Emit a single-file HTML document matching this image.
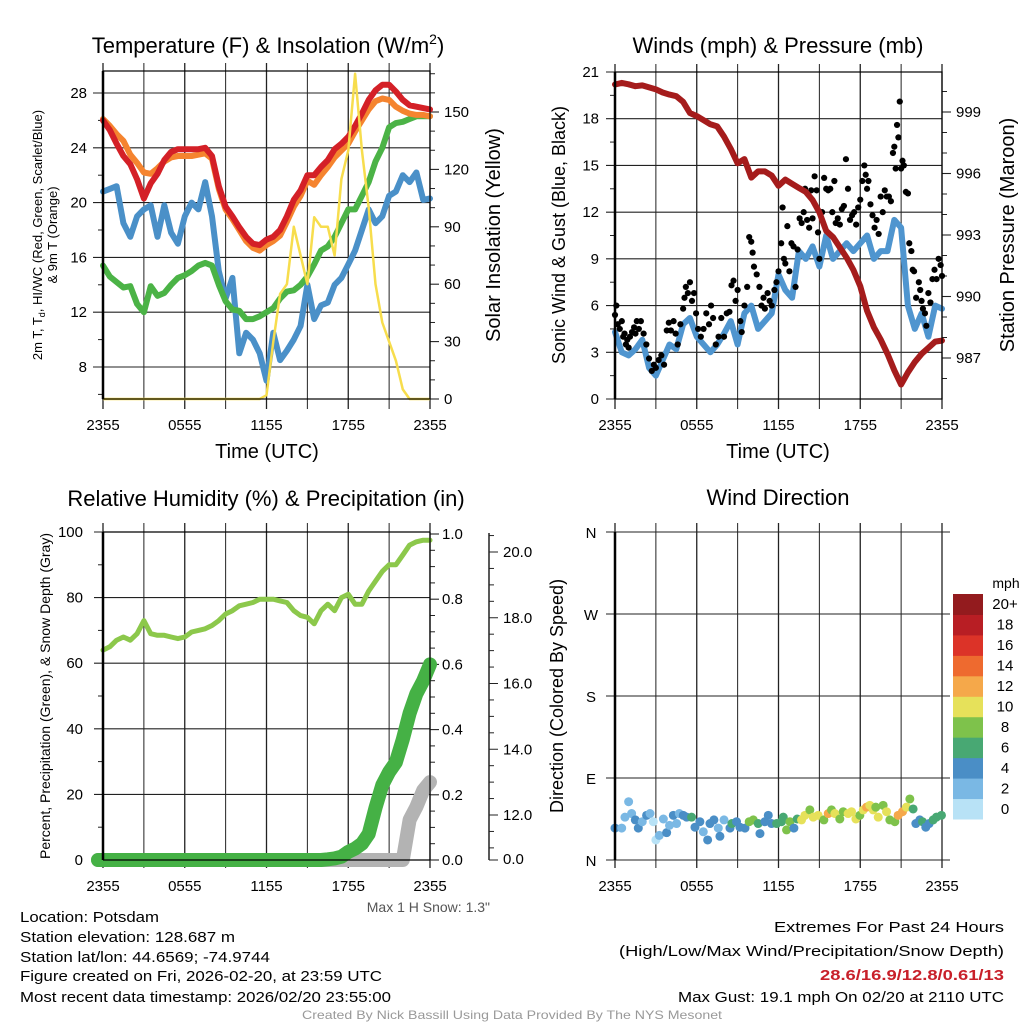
<!DOCTYPE html>
<html><head><meta charset="utf-8"><style>
html,body{margin:0;padding:0;background:#fff;}
svg{display:block;font-family:"Liberation Sans",Arial,sans-serif;}
</style></head><body>
<svg id="chart" width="1024" height="1024" viewBox="0 0 1024 1024" xmlns="http://www.w3.org/2000/svg">
<rect width="1024" height="1024" fill="#fff"/>
<text x="268" y="53" font-size="22" text-anchor="middle">Temperature (F) &amp; Insolation (W/m<tspan font-size="14" dy="-9">2</tspan><tspan dy="9">)</tspan></text>
<text x="778" y="53" font-size="22" text-anchor="middle">Winds (mph) &amp; Pressure (mb)</text>
<text x="266" y="506" font-size="22" text-anchor="middle">Relative Humidity (%) &amp; Precipitation (in)</text>
<text x="778" y="505" font-size="22" text-anchor="middle">Wind Direction</text>
<text transform="translate(42,235) rotate(-90)" font-size="13" text-anchor="middle">2m T, T<tspan font-size="9" dy="3">d</tspan><tspan dy="-3">, HI/WC (Red, Green, Scarlet/Blue)</tspan></text>
<text transform="translate(57,235) rotate(-90)" font-size="13" text-anchor="middle">&amp; 9m T (Orange)</text>
<text transform="translate(500,235) rotate(-90)" font-size="20" text-anchor="middle">Solar Insolation (Yellow)</text>
<text x="267" y="458" font-size="20" text-anchor="middle">Time (UTC)</text>
<text transform="translate(565,235) rotate(-90)" font-size="18" text-anchor="middle">Sonic Wind &amp; Gust (Blue, Black)</text>
<text transform="translate(1014,235) rotate(-90)" font-size="20" text-anchor="middle">Station Pressure (Maroon)</text>
<text x="778" y="458" font-size="20" text-anchor="middle">Time (UTC)</text>
<text transform="translate(50,696) rotate(-90)" font-size="14" text-anchor="middle">Percent, Precipitation (Green), &amp; Snow Depth (Gray)</text>
<text transform="translate(563,696) rotate(-90)" font-size="18" text-anchor="middle">Direction (Colored By Speed)</text>
<text x="490" y="912" font-size="14" fill="#555" text-anchor="end">Max 1 H Snow: 1.3"</text>
<g font-size="15">
<text x="20" y="922" textLength="139" lengthAdjust="spacingAndGlyphs">Location: Potsdam</text>
<text x="20" y="942" textLength="215" lengthAdjust="spacingAndGlyphs">Station elevation: 128.687 m</text>
<text x="20" y="962" textLength="250" lengthAdjust="spacingAndGlyphs">Station lat/lon: 44.6569; -74.9744</text>
<text x="20" y="981" textLength="362" lengthAdjust="spacingAndGlyphs">Figure created on Fri, 2026-02-20, at 23:59 UTC</text>
<text x="20" y="1002" textLength="371" lengthAdjust="spacingAndGlyphs">Most recent data timestamp: 2026/02/20 23:55:00</text>
</g>
<g font-size="15" text-anchor="end">
<text x="1004" y="932" textLength="230" lengthAdjust="spacingAndGlyphs">Extremes For Past 24 Hours</text>
<text x="1004" y="956" textLength="385" lengthAdjust="spacingAndGlyphs">(High/Low/Max Wind/Precipitation/Snow Depth)</text>
<text x="1004" y="980" fill="#c8202a" font-weight="bold" textLength="184" lengthAdjust="spacingAndGlyphs">28.6/16.9/12.8/0.61/13</text>
<text x="1004" y="1002" textLength="326" lengthAdjust="spacingAndGlyphs">Max Gust: 19.1 mph On 02/20 at 2110 UTC</text>
</g>
<text x="512" y="1019" font-size="12" fill="#999" text-anchor="middle" textLength="420" lengthAdjust="spacingAndGlyphs">Created By Nick Bassill Using Data Provided By The NYS Mesonet</text>
<g id="plots"></g>
</svg>
<script>
const hours = [0,0.5,1,1.5,2,2.5,3,3.5,4,4.5,5,5.5,6,6.5,7,7.5,8,8.5,9,9.5,10,10.5,11,11.5,12,12.5,13,13.5,14,14.5,15,15.5,16,16.5,17,17.5,18,18.5,19,19.5,20,20.5,21,21.5,22,22.5,23,23.5,24];
const timeTickLabels = ["2355","0555","1155","1755","2355"];
const tempRed = [26.0,25.3,24.3,23.4,22.8,21.7,20.3,21.4,22.1,23.1,23.7,23.9,23.9,23.9,23.9,24.0,23.4,21.2,19.7,19.0,18.2,17.5,17.0,16.9,17.3,17.5,18.0,19.0,20.2,20.9,22.0,22.0,22.6,23.1,23.9,24.3,24.8,25.6,26.5,27.5,28.2,28.6,28.6,28.1,27.5,27.1,27.0,26.9,26.8];
const temp9m = [26.1,25.6,25.0,24.5,23.5,22.9,22.2,22.1,22.5,23.0,23.3,23.4,23.4,23.4,23.5,23.6,23.2,21.0,19.5,18.8,18.0,17.2,16.7,16.5,16.9,17.2,17.6,18.6,19.7,20.5,21.6,21.3,22.0,22.6,23.3,23.8,24.3,25.2,26.0,26.8,27.4,27.6,27.5,27.0,26.7,26.5,26.4,26.4,26.3];
const dewGreen = [15.4,14.6,14.2,13.8,13.9,12.6,12.0,13.9,13.2,13.4,14.0,14.5,14.7,15.0,15.4,15.6,15.4,14.0,12.8,12.2,12.1,11.5,11.5,11.7,12.0,12.3,13.0,13.5,13.6,14.0,14.6,15.5,16.5,16.8,17.5,18.5,19.5,19.5,20.5,21.5,23.0,24.0,25.5,25.8,25.9,26.1,26.3,26.3,26.3];
const windChill = [20.8,21.0,21.2,18.5,17.5,19.0,19.5,19.8,17.5,19.8,17.8,17.0,19.0,20.0,19.5,21.5,19.0,15.0,13.0,14.5,9.0,10.5,10.0,9.0,7.0,10.5,8.5,9.2,10.0,11.0,14.0,11.5,12.5,12.7,14.0,14.5,15.5,16.5,18.0,19.5,18.5,19.0,20.5,20.8,22.0,21.5,22.2,20.2,20.3];
const solar = [0,0,0,0,0,0,0,0,0,0,0,0,0,0,0,0,0,0,0,0,0,0,0,0,2,30,55,60,90,75,60,95,90,90,75,115,130,170,130,100,60,40,30,20,5,0,0,0,0];
const tempTicks = [8,12,16,20,24,28];
const solarTicks = [0,30,60,90,120,150];

const windSpeed = [4.3,3.0,2.8,3.2,3.8,2.0,1.5,2.5,3.5,3.2,4.8,5.2,4.0,3.5,3.0,3.5,4.2,5.0,3.5,5.5,6.0,4.5,5.0,5.5,8.0,7.0,6.5,9.5,9.0,9.8,8.5,10.5,9.0,9.5,10.0,9.5,10.0,10.5,9.0,9.5,9.5,11.5,11.0,6.0,4.5,5.5,4.0,6.0,5.8];
const pressure = [1000.34,1000.42,1000.35,1000.26,1000.3,1000.2,1000.1,999.95,999.85,999.77,999.5,998.95,998.8,998.6,998.4,998.3,997.8,997.2,996.5,996.7,995.8,996.1,996.1,995.9,995.4,995.7,995.5,995.3,995.1,994.7,994.1,993.2,992.9,992.4,991.9,991.3,990.5,989.3,988.5,987.9,987.2,986.4,985.7,986.3,986.8,987.2,987.5,987.8,987.85];
const gustHours = [0,0.1,0.2,0.35,0.5,0.6,0.7,0.8,0.9,1.0,1.1,1.25,1.4,1.5,1.6,1.75,1.9,2.1,2.3,2.5,2.7,2.85,3.0,3.2,3.4,3.6,3.8,3.95,4.1,4.3,4.45,4.6,4.8,5.0,5.1,5.2,5.35,5.5,5.65,5.8,5.95,6.1,6.3,6.5,6.7,6.9,7.05,7.2,7.4,7.6,7.8,8.0,8.2,8.4,8.55,8.7,8.85,9.0,9.2,9.3,9.5,9.7,9.85,10.0,10.1,10.2,10.4,10.6,10.75,10.9,11.0,11.2,11.35,11.5,11.7,11.85,12.0,12.2,12.3,12.4,12.5,12.65,12.8,12.95,13.1,13.25,13.4,13.55,13.7,13.85,13.95,14.1,14.25,14.4,14.5,14.65,14.8,14.9,15.0,15.2,15.35,15.5,15.65,15.8,15.95,16.1,16.2,16.35,16.5,16.65,16.8,16.95,17.1,17.25,17.4,17.55,17.7,17.85,18.0,18.15,18.3,18.4,18.5,18.6,18.75,18.9,19.05,19.2,19.35,19.5,19.65,19.8,19.95,20.1,20.25,20.4,20.5,20.6,20.7,20.8,20.9,21.0,21.1,21.2,21.35,21.5,21.6,21.75,21.85,21.95,22.1,22.3,22.4,22.5,22.6,22.75,22.85,23.0,23.15,23.3,23.45,23.6,23.75,23.9,24.0];
const gustValues = [5.4,6.0,4.8,4.5,5.0,4.0,4.2,3.5,3.8,3.3,4.0,4.3,4.6,4.2,5.0,4.5,5.0,4.2,3.5,2.6,1.8,2.2,2.0,2.5,2.8,2.2,4.4,4.9,4.4,5.0,4.2,3.5,4.8,5.8,6.5,7.2,6.8,7.5,6.3,6.8,5.5,4.5,4.0,4.5,5.5,4.8,6.0,5.2,3.5,4.0,5.2,4.0,5.5,5.6,7.3,7.6,6.3,7.0,5.0,4.3,6.0,7.2,10.4,10.1,9.4,8.5,8.0,7.2,6.0,6.5,5.8,6.8,6.3,6.0,7.0,7.5,8.2,10.0,12.3,9.0,8.7,11.1,8.2,10.0,9.8,7.2,9.6,11.6,11.3,12.0,13.5,11.5,11.0,13.4,11.6,14.3,13.4,10.7,9.0,12.0,14.2,13.5,13.4,13.5,12.0,14.0,11.3,11.6,11.2,12.2,12.4,15.4,13.5,11.5,11.8,12.0,11.2,12.3,12.8,14.0,15.0,14.4,13.5,14.0,12.5,11.8,11.0,11.5,10.6,13.0,12.0,13.4,13.0,13.0,12.7,15.8,16.2,14.8,17.6,16.8,19.1,14.8,15.3,15.0,13.3,13.2,10.0,9.5,8.3,8.2,6.5,7.5,7.0,6.3,5.8,5.5,4.7,6.8,6.2,7.7,8.3,7.7,9.0,8.6,7.9];
const windTicks = [0,3,6,9,12,15,18,21];
const pressureTicks = [987,990,993,996,999];

const humidity = [64,65,67,68,67,69,73,69,68.5,68.5,68,67.5,68,69.5,70,70.5,71.5,73,75,76,77.5,78,78.5,79.5,79.5,79.5,79,78.5,76,74.5,74,72,76,78,76,80,81,78,78,82,85,88,90,90,93,96,97,97.5,97.5];
const precip = [0,0,0,0,0,0,0,0,0,0,0,0,0,0,0,0,0,0,0,0,0,0,0,0,0,0,0,0,0,0,0,0,0,0.002,0.005,0.01,0.025,0.035,0.05,0.08,0.16,0.23,0.27,0.30,0.37,0.45,0.51,0.55,0.60];
const snowDepth = [0,0,0,0,0,0,0,0,0,0,0,0,0,0,0,0,0,0,0,0,0,0,0,0,0,0,0,0,0,0,0,0,0,0,0,0,0,0,0,0,0,0,0,0,0,11.85,12.25,12.75,13.0];
const percentTicks = [0,20,40,60,80,100];
const precipTicks = ["0.0","0.2","0.4","0.6","0.8","1.0"];
const snowTicks = ["12.0","14.0","16.0","18.0","20.0"];

const dirHours = [0,0.49,0.73,1.0,1.22,1.49,1.71,2.0,2.32,2.57,2.81,3.0,3.25,3.55,3.79,4.0,4.28,4.52,4.72,5.01,5.26,5.62,5.87,6.23,6.48,6.8,6.97,7.26,7.58,7.7,8.0,8.44,8.58,8.92,9.17,9.54,9.85,10.15,10.51,10.64,11.0,11.25,11.49,11.86,12.22,12.35,12.59,12.84,13.13,13.37,13.69,13.94,14.3,14.55,14.91,15.33,15.65,15.89,16.14,16.5,16.75,17.11,17.36,17.68,17.97,18.22,18.46,18.7,18.95,19.14,19.32,19.68,19.93,20.17,20.54,20.78,21.1,21.39,21.64,21.88,22.08,22.37,22.57,22.81,23.06,23.35,23.59,23.96];
const dirDegrees = [35,35,47,64,51,44,35,42,49,51,42,22,27,45,30,38,49,40,51,49,47,47,36,42,31,22,40,44,35,26,44,35,40,42,36,35,42,44,40,29,42,49,40,40,42,47,33,42,35,45,44,49,55,47,49,44,51,55,51,45,53,51,53,45,49,55,58,60,55,58,47,60,53,44,42,49,53,58,67,56,40,44,42,36,40,44,47,49];
const dirSpeeds = [5,3,3,3,3,5,5,3,5,3,1,1,3,3,5,3,5,3,3,5,5,7,5,5,3,5,5,5,3,5,3,5,7,5,5,5,9,9,7,5,5,5,5,7,7,7,9,9,5,7,11,11,9,11,11,9,13,9,11,9,9,11,11,11,9,11,13,11,11,9,11,9,11,9,9,13,13,11,9,7,5,5,7,5,5,7,7,7];
const directionLabels = ["N","E","S","W","N"];
const speedBinLabels = ["0","2","4","6","8","10","12","14","16","18","20+"];
const speedColors = ["#b8e2f6","#7ab8e4","#4a8ec6","#48a873","#7ec24b","#e6e15a","#f5a84a","#ee6a2f","#dc3328","#b81e24","#931b1e"];

const NS = "http://www.w3.org/2000/svg";
const root = document.getElementById("plots");
function mk(tag, attrs, parent){
  const e = document.createElementNS(NS, tag);
  for (const k in attrs) e.setAttribute(k, attrs[k]);
  (parent||root).appendChild(e);
  return e;
}
function lin(d0,d1,r0,r1){ return v => r0 + (v-d0)*(r1-r0)/(d1-d0); }
function linePath(xs, ys, fx, fy){
  return xs.map((h,i)=>(i?"L":"M")+fx(h).toFixed(1)+","+fy(ys[i]).toFixed(1)).join("");
}
function timeGrid(g, x0, x1, yTop, yBot, gTop, gBot, labelY){
  const fx = lin(0,24,x0,x1);
  for (let k=0;k<=8;k++){
    const x = fx(k*3);
    const l = mk("line",{x1:x,x2:x,y1:gTop,y2:gBot,stroke:"#222","stroke-width":k%2?1:1.3},g);
    
    
  }
  timeTickLabels.forEach((lab,i)=>{
    const t = mk("text",{x:fx(i*6),y:labelY,"font-size":15,"text-anchor":"middle"},g);
    t.textContent = lab;
    
    
  });
  return fx;
}

(function(){
  const g = mk("g",{});
  
  
  const X0=103,X1=430,YT=71,YB=399;
  const fy = lin(8,28,367,93);
  const fs = lin(0,150,399,112);
  const fx = timeGrid(g,X0,X1,YT,YB,63,409,430);
  tempTicks.forEach(v=>{
    mk("line",{x1:X0-10,x2:X1,y1:fy(v),y2:fy(v),stroke:"#222","stroke-width":1.1},g);
    const t = mk("text",{x:X0-16,y:fy(v)+5,"font-size":15,"text-anchor":"end"},g);
    t.textContent = v;
    
    
  });
  for (let v=6; v<=30; v+=2){ if (v%4) { const y=fy(v); if(y>YT&&y<YB) mk("line",{x1:X0-5,x2:X0,y1:y,y2:y,stroke:"#222"},g);} }
  solarTicks.forEach(v=>{
    mk("line",{x1:X1,x2:X1+9,y1:fs(v),y2:fs(v),stroke:"#222","stroke-width":1.1},g);
    const t = mk("text",{x:X1+14,y:fs(v)+5,"font-size":15},g);
    t.textContent = v;
    
    
  });
  for (let v=10; v<=170; v+=10){ if (v%30){ mk("line",{x1:X1,x2:X1+5,y1:fs(v),y2:fs(v),stroke:"#222"},g);} }
  const series = [[windChill,"#4a90c8","wind-chill-line"],[dewGreen,"#4bb346","dewpoint-line"],[temp9m,"#f5842f","temp-9m-line"],[tempRed,"#d42027","temp-2m-line"]];
  series.forEach(s=>{
    const p = mk("path",{d:linePath(hours,s[0],fx,fy),fill:"none",stroke:s[1],"stroke-width":6,"stroke-linejoin":"round","stroke-linecap":"round"},g);
    
    
  });
  const sp = mk("path",{d:linePath(hours,solar,fx,fs),fill:"none",stroke:"#f7dd4d","stroke-width":2.5,"stroke-linejoin":"round"},g);
  
  
  const fr = mk("rect",{x:X0,y:YT,width:X1-X0,height:YB-YT,fill:"none",stroke:"#000","stroke-width":1.2},g);
  
  
  mk("line",{x1:X0,x2:X0,y1:YT,y2:YB,stroke:"#000","stroke-width":2.5},g);
})();

(function(){
  const g = mk("g",{});
  
  
  const X0=615,X1=942,YT=72,YB=399;
  const fy = lin(0,21,399,72);
  const fp = lin(987,999,358,112);
  const fx = timeGrid(g,X0,X1,YT,YB,64,409,430);
  windTicks.forEach(v=>{
    mk("line",{x1:X0-9,x2:X1,y1:fy(v),y2:fy(v),stroke:"#222","stroke-width":1.1},g);
    const t = mk("text",{x:X0-16,y:fy(v)+5,"font-size":15,"text-anchor":"end"},g);
    t.textContent = v;
    
    
  });
  for (let v=1.5; v<21; v+=3){ mk("line",{x1:X0-5,x2:X0,y1:fy(v),y2:fy(v),stroke:"#222"},g); }
  pressureTicks.forEach(v=>{
    mk("line",{x1:X1,x2:X1+9,y1:fp(v),y2:fp(v),stroke:"#222","stroke-width":1.1},g);
    const t = mk("text",{x:X1+14,y:fp(v)+5,"font-size":15},g);
    t.textContent = v;
    
    
  });
  for (let v=986; v<=1000; v++){ if ((v-987)%3){ const y=fp(v); if(y>YT&&y<YB) mk("line",{x1:X1,x2:X1+5,y1:y,y2:y,stroke:"#222"},g);} }
  const wp = mk("path",{d:linePath(hours,windSpeed,fx,fy),fill:"none",stroke:"#4f95cf","stroke-width":6,"stroke-linejoin":"round","stroke-linecap":"round"},g);
  
  
  gustHours.forEach((h,i)=>{
    const c = mk("circle",{cx:fx(h),cy:fy(gustValues[i]),r:3.1,fill:"#000"},g);
    
    
  });
  const pp = mk("path",{d:linePath(hours,pressure,fx,fp),fill:"none",stroke:"#a51c1c","stroke-width":6,"stroke-linejoin":"round","stroke-linecap":"round"},g);
  
  
  const fr = mk("rect",{x:X0,y:YT,width:X1-X0,height:YB-YT,fill:"none",stroke:"#000","stroke-width":1.2},g);
  
  
  mk("line",{x1:X0,x2:X0,y1:YT,y2:YB,stroke:"#000","stroke-width":2.5},g);
})();

(function(){
  const g = mk("g",{});
  
  
  const X0=103,X1=430,YT=532,YB=860;
  const fy = lin(0,100,860,532);
  const fr = lin(0,1,860,534);
  const fsd = lin(12,20,815,552);
  const fx = timeGrid(g,X0,X1,YT,YB,523,868,891);
  percentTicks.forEach(v=>{
    mk("line",{x1:X0-9,x2:X1,y1:fy(v),y2:fy(v),stroke:"#222","stroke-width":1.1},g);
    const t = mk("text",{x:X0-20,y:fy(v)+5,"font-size":15,"text-anchor":"end"},g);
    t.textContent = v;
    
    
  });
  for (let v=10; v<100; v+=20){ mk("line",{x1:X0-5,x2:X0,y1:fy(v),y2:fy(v),stroke:"#222"},g); }
  precipTicks.forEach((lab,i)=>{
    const v = i*0.2;
    mk("line",{x1:X1,x2:X1+9,y1:fr(v),y2:fr(v),stroke:"#222","stroke-width":1.1},g);
    const t = mk("text",{x:X1+12,y:fr(v)+5,"font-size":15},g);
    t.textContent = lab;
    
    
  });
  for (let k=1;k<20;k++){ if(k%4){ const y=fr(k*0.05); mk("line",{x1:X1,x2:X1+5,y1:y,y2:y,stroke:"#222"},g);} }
  const ax = mk("line",{x1:489,x2:489,y1:533,y2:860,stroke:"#222","stroke-width":1.5},g);
  
  
  snowTicks.forEach(lab=>{
    const y = fsd(parseFloat(lab));
    mk("line",{x1:489,x2:498,y1:y,y2:y,stroke:"#222"},g);
    const t = mk("text",{x:503,y:y+5,"font-size":15},g);
    t.textContent = lab;
    
    
  });
  for (let v=11; v<=20.5; v+=0.5){ if (v%2){ const y=fsd(v); if (y>533&&y<858) mk("line",{x1:489,x2:494,y1:y,y2:y,stroke:"#222"},g);} }
  mk("line",{x1:489,x2:498,y1:860,y2:860,stroke:"#222"},g);
  const z = mk("text",{x:503,y:864,"font-size":15},g);
  z.textContent = "0.0";
  
  
  const fsdClamp = v => Math.min(860, fsd(v));
  const sp = mk("path",{d:"M"+(X0-5)+","+fsdClamp(snowDepth[0])+linePath(hours,snowDepth,fx,fsdClamp).replace(/^M/,"L"),fill:"none",stroke:"#b3b3b3","stroke-width":14,"stroke-linejoin":"round","stroke-linecap":"round"},g);
  
  
  const pp = mk("path",{d:"M"+(X0-5)+","+fr(precip[0])+linePath(hours,precip,fx,fr).replace(/^M/,"L"),fill:"none",stroke:"#45b145","stroke-width":14,"stroke-linejoin":"round","stroke-linecap":"round"},g);
  
  
  const hp = mk("path",{d:linePath(hours,humidity,fx,fy),fill:"none",stroke:"#8cc84b","stroke-width":5,"stroke-linejoin":"round","stroke-linecap":"round"},g);
  
  
  mk("line",{x1:X0,x2:X1,y1:YT,y2:YT,stroke:"#000","stroke-width":1.2},g);
  mk("line",{x1:X0,x2:X1,y1:YB,y2:YB,stroke:"#000","stroke-width":1.2},g);
  mk("line",{x1:X1,x2:X1,y1:YT,y2:YB,stroke:"#000","stroke-width":1.2},g);
  mk("line",{x1:X0,x2:X0,y1:YT,y2:YB,stroke:"#000","stroke-width":2.5},g);
})();

(function(){
  const g = mk("g",{});
  
  
  const X0=615,X1=942,YT=532,YB=860;
  const fy = lin(0,360,860,532);
  const fx = timeGrid(g,X0,X1,YT,YB,523,868,891);
  directionLabels.forEach((lab,i)=>{
    const y = fy(i*90);
    mk("line",{x1:X0-9,x2:X1+8,y1:y,y2:y,stroke:"#222","stroke-width":1.1},g);
    const t = mk("text",{x:591,y:y+6,"font-size":15,"text-anchor":"middle"},g);
    t.textContent = lab;
    
    
  });
  dirHours.forEach((h,i)=>{
    const bin = Math.min(10, Math.floor(dirSpeeds[i]/2));
    const c = mk("circle",{cx:fx(h),cy:fy(dirDegrees[i]),r:4.5,fill:speedColors[bin]},g);
    
    
  });
  mk("line",{x1:X0,x2:X0,y1:YT,y2:YB,stroke:"#000","stroke-width":2.5},g);
  const cb = mk("g",{},g);
  
  
  const unit = mk("text",{x:1006,y:588,"font-size":14,"text-anchor":"middle"},cb);
  unit.textContent = "mph";
  
  
  const bh = (819-594)/speedBinLabels.length;
  speedBinLabels.forEach((lab,i)=>{
    const y = 819 - (i+1)*bh;
    const r = mk("rect",{x:953,y:y,width:30,height:bh+0.5,fill:speedColors[i]},cb);
    
    
    const t = mk("text",{x:1005,y:y+bh/2+5,"font-size":15,"text-anchor":"middle"},cb);
    t.textContent = lab;
    
    
  });
})();
</script>
</body></html>
